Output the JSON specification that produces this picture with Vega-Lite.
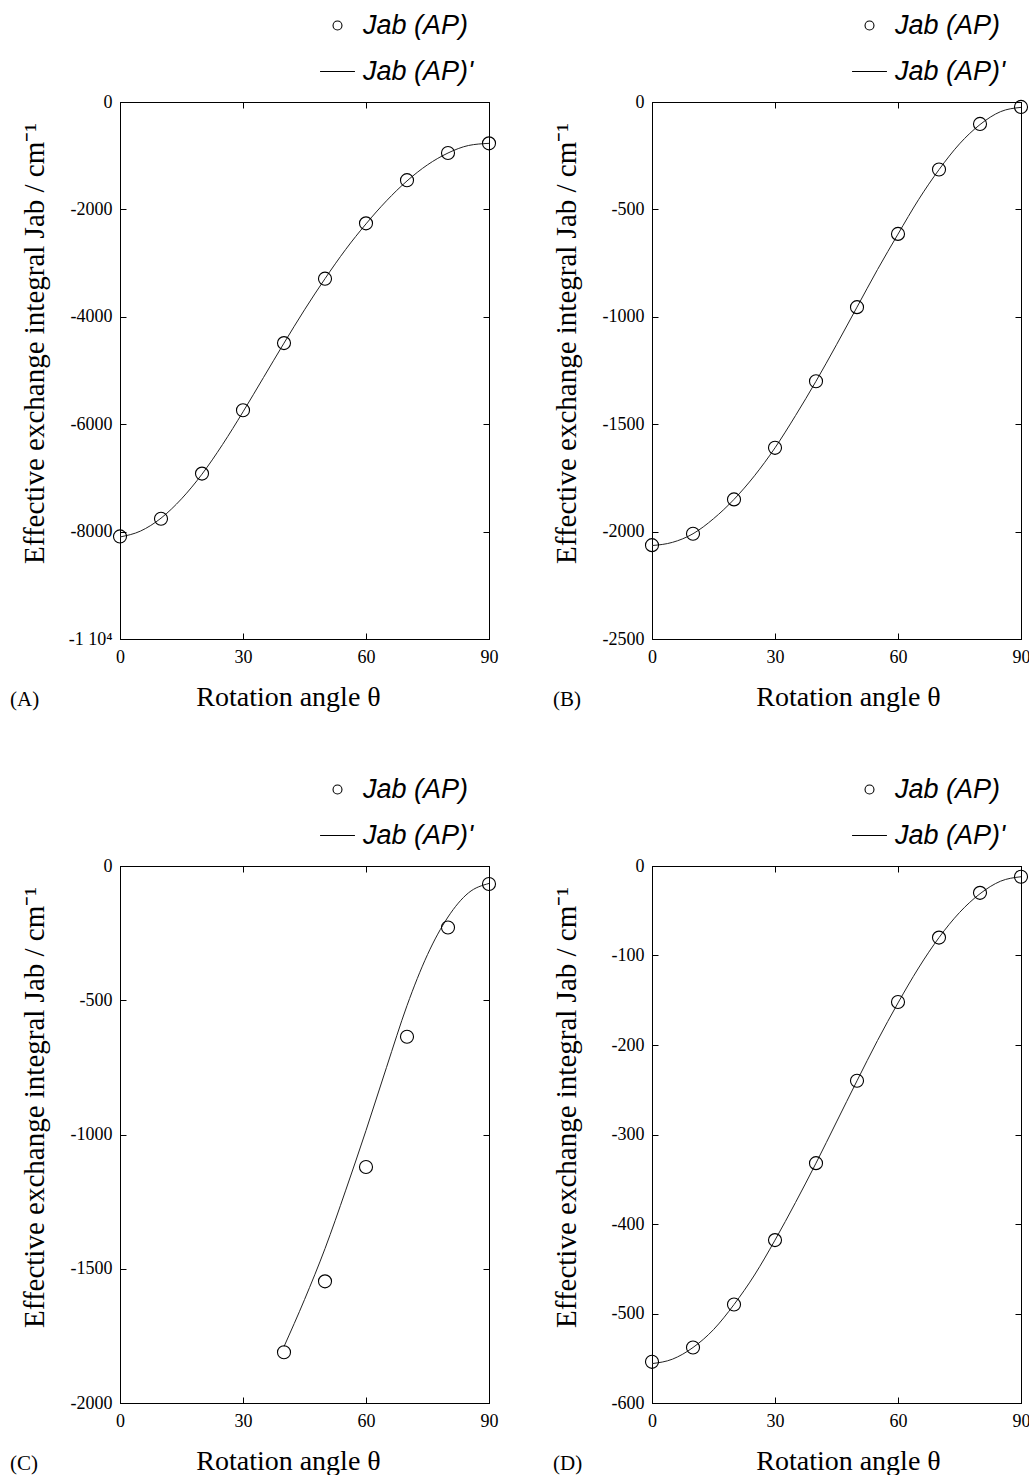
{
  "$schema": "https://vega.github.io/schema/vega-lite/v6.json",
  "autosize": {"type": "none"},
  "padding": {"left": 120, "top": 102, "right": 909, "bottom": 1373},
  "background": "white",
  "columns": 2,
  "spacing": {"row": 227, "column": 163},
  "bounds": "flush",
  "resolve": {"scale": {"shape": "independent"}, "legend": {"shape": "independent"}},
  "config": {
    "view": {"stroke": "black", "strokeWidth": 1},
    "axis": {
      "grid": false,
      "domainColor": "black",
      "tickColor": "black",
      "labelColor": "black",
      "labelFont": "Liberation Serif",
      "labelFontSize": 18,
      "titleFont": "Liberation Serif",
      "titleFontWeight": "normal",
      "titleColor": "black",
      "titleFontSize": 28,
      "labelFlush": false
    },
    "legend": {
      "orient": "none", "legendX": 204, "legendY": -90, "title": null,
      "labelFont": "Liberation Sans", "labelFontStyle": "italic", "labelFontSize": 27, "labelColor": "black",
      "symbolSize": 80, "symbolStrokeWidth": 1.1, "symbolStrokeColor": "black", "symbolFillColor": "transparent",
      "labelOffset": 12, "rowPadding": 18
    },
    "title": {"font": "Liberation Serif", "fontWeight": "normal", "fontSize": 21, "color": "black"}
  },
  "concat": [
    {
      "width": 369, "height": 537,
      "title": {"text": "(A)", "orient": "bottom", "anchor": "start", "frame": "group", "dx": -110, "offset": -22},
      "resolve": {"axis": {"x": "independent", "y": "independent"}},
      "layer": [
        {
          "data": {"values": [
            {"t": 0, "j": -8100}, {"t": 5, "j": -7990}, {"t": 10, "j": -7750}, {"t": 15, "j": -7390},
            {"t": 20, "j": -6930}, {"t": 25, "j": -6380}, {"t": 30, "j": -5770}, {"t": 35, "j": -5130},
            {"t": 40, "j": -4490}, {"t": 45, "j": -3870}, {"t": 50, "j": -3290}, {"t": 55, "j": -2750},
            {"t": 60, "j": -2270}, {"t": 65, "j": -1840}, {"t": 70, "j": -1470}, {"t": 75, "j": -1170},
            {"t": 80, "j": -950}, {"t": 85, "j": -810}, {"t": 90, "j": -770}
          ]},
          "mark": {"type": "line", "interpolate": "monotone", "color": "#222", "strokeWidth": 1},
          "encoding": {
            "x": {"field": "t", "type": "quantitative", "scale": {"domain": [0, 90], "nice": false},
                  "axis": {"orient": "top", "labels": false, "title": null, "values": [0, 30, 60, 90], "tickSize": -6}},
            "y": {"field": "j", "type": "quantitative", "scale": {"domain": [-10000, 0], "nice": false},
                  "axis": {"orient": "right", "labels": false, "title": null, "values": [0, -2000, -4000, -6000, -8000, -10000], "tickSize": -6}}
          }
        },
        {
          "data": {"values": [
            {"t": 0, "j": -8090, "s": "Jab (AP)"}, {"t": 10, "j": -7760, "s": "Jab (AP)"},
            {"t": 20, "j": -6920, "s": "Jab (AP)"}, {"t": 30, "j": -5740, "s": "Jab (AP)"},
            {"t": 40, "j": -4490, "s": "Jab (AP)"}, {"t": 50, "j": -3290, "s": "Jab (AP)"},
            {"t": 60, "j": -2260, "s": "Jab (AP)"}, {"t": 70, "j": -1456, "s": "Jab (AP)"},
            {"t": 80, "j": -950, "s": "Jab (AP)"}, {"t": 90, "j": -770, "s": "Jab (AP)"}
          ]},
          "mark": {"type": "point", "filled": false, "color": "black", "size": 170, "strokeWidth": 1.1, "opacity": 1},
          "encoding": {
            "x": {"field": "t", "type": "quantitative", "scale": {"domain": [0, 90], "nice": false},
                  "axis": {"orient": "bottom", "values": [0, 30, 60, 90], "tickSize": -6, "labelPadding": 15,
                           "title": "Rotation angle θ", "titleX": 168, "titleY": 58, "titleBaseline": "middle",
                           "labelExpr": "format(datum.value, 'd')"}},
            "y": {"field": "j", "type": "quantitative", "scale": {"domain": [-10000, 0], "nice": false},
                  "axis": {"orient": "left", "values": [0, -2000, -4000, -6000, -8000, -10000], "tickSize": -6, "labelPadding": 14,
                           "title": "Effective exchange integral  Jab / cm⁻¹", "titleFontSize": 29, "titleX": -86, "titleY": 241, "titleBaseline": "middle",
                           "labelExpr": "datum.value == -10000 ? '-1 10⁴' : (datum.value < 0 ? '-' + format(-datum.value, 'd') : format(datum.value, 'd'))"}},
            "shape": {"field": "s", "type": "nominal",
                      "scale": {"domain": ["Jab (AP)", "Jab (AP)'"], "range": ["circle", "M-3.9,0H3.9"]}}
          }
        }
      ]
    },
    {
      "width": 369, "height": 537,
      "title": {"text": "(B)", "orient": "bottom", "anchor": "start", "frame": "group", "dx": -99, "offset": -22},
      "resolve": {"axis": {"x": "independent", "y": "independent"}},
      "layer": [
        {
          "data": {"values": [
            {"t": 0, "j": -2065}, {"t": 5, "j": -2050}, {"t": 10, "j": -2010}, {"t": 15, "j": -1940},
            {"t": 20, "j": -1850}, {"t": 25, "j": -1740}, {"t": 30, "j": -1610}, {"t": 35, "j": -1460},
            {"t": 40, "j": -1300}, {"t": 45, "j": -1130}, {"t": 50, "j": -955}, {"t": 55, "j": -780},
            {"t": 60, "j": -615}, {"t": 65, "j": -455}, {"t": 70, "j": -315}, {"t": 75, "j": -195},
            {"t": 80, "j": -105}, {"t": 85, "j": -45}, {"t": 90, "j": -25}
          ]},
          "mark": {"type": "line", "interpolate": "monotone", "color": "#222", "strokeWidth": 1},
          "encoding": {
            "x": {"field": "t", "type": "quantitative", "scale": {"domain": [0, 90], "nice": false},
                  "axis": {"orient": "top", "labels": false, "title": null, "values": [0, 30, 60, 90], "tickSize": -6}},
            "y": {"field": "j", "type": "quantitative", "scale": {"domain": [-2500, 0], "nice": false},
                  "axis": {"orient": "right", "labels": false, "title": null, "values": [0, -500, -1000, -1500, -2000, -2500], "tickSize": -6}}
          }
        },
        {
          "data": {"values": [
            {"t": 0, "j": -2063, "s": "Jab (AP)"}, {"t": 10, "j": -2010, "s": "Jab (AP)"},
            {"t": 20, "j": -1850, "s": "Jab (AP)"}, {"t": 30, "j": -1610, "s": "Jab (AP)"},
            {"t": 40, "j": -1300, "s": "Jab (AP)"}, {"t": 50, "j": -955, "s": "Jab (AP)"},
            {"t": 60, "j": -614, "s": "Jab (AP)"}, {"t": 70, "j": -314, "s": "Jab (AP)"},
            {"t": 80, "j": -102, "s": "Jab (AP)"}, {"t": 90, "j": -23, "s": "Jab (AP)"}
          ]},
          "mark": {"type": "point", "filled": false, "color": "black", "size": 170, "strokeWidth": 1.1, "opacity": 1},
          "encoding": {
            "x": {"field": "t", "type": "quantitative", "scale": {"domain": [0, 90], "nice": false},
                  "axis": {"orient": "bottom", "values": [0, 30, 60, 90], "tickSize": -6, "labelPadding": 15,
                           "title": "Rotation angle θ", "titleX": 196, "titleY": 58, "titleBaseline": "middle",
                           "labelExpr": "format(datum.value, 'd')"}},
            "y": {"field": "j", "type": "quantitative", "scale": {"domain": [-2500, 0], "nice": false},
                  "axis": {"orient": "left", "values": [0, -500, -1000, -1500, -2000, -2500], "tickSize": -6, "labelPadding": 14,
                           "title": "Effective exchange integral  Jab / cm⁻¹", "titleFontSize": 29, "titleX": -86, "titleY": 241, "titleBaseline": "middle",
                           "labelExpr": "datum.value < 0 ? '-' + format(-datum.value, 'd') : format(datum.value, 'd')"}},
            "shape": {"field": "s", "type": "nominal",
                      "scale": {"domain": ["Jab (AP)", "Jab (AP)'"], "range": ["circle", "M-3.9,0H3.9"]}}
          }
        }
      ]
    },
    {
      "width": 369, "height": 537,
      "title": {"text": "(C)", "orient": "bottom", "anchor": "start", "frame": "group", "dx": -110, "offset": -22},
      "resolve": {"axis": {"x": "independent", "y": "independent"}},
      "layer": [
        {
          "data": {"values": [
            {"t": 40, "j": -1790}, {"t": 45, "j": -1615}, {"t": 50, "j": -1425}, {"t": 55, "j": -1210},
            {"t": 60, "j": -985}, {"t": 65, "j": -750}, {"t": 70, "j": -520}, {"t": 75, "j": -330},
            {"t": 80, "j": -190}, {"t": 85, "j": -100}, {"t": 90, "j": -65}
          ]},
          "mark": {"type": "line", "interpolate": "monotone", "color": "#222", "strokeWidth": 1},
          "encoding": {
            "x": {"field": "t", "type": "quantitative", "scale": {"domain": [0, 90], "nice": false},
                  "axis": {"orient": "top", "labels": false, "title": null, "values": [0, 30, 60, 90], "tickSize": -6}},
            "y": {"field": "j", "type": "quantitative", "scale": {"domain": [-2000, 0], "nice": false},
                  "axis": {"orient": "right", "labels": false, "title": null, "values": [0, -500, -1000, -1500, -2000], "tickSize": -6}}
          }
        },
        {
          "data": {"values": [
            {"t": 40, "j": -1811, "s": "Jab (AP)"}, {"t": 50, "j": -1547, "s": "Jab (AP)"},
            {"t": 60, "j": -1121, "s": "Jab (AP)"}, {"t": 70, "j": -636, "s": "Jab (AP)"},
            {"t": 80, "j": -229, "s": "Jab (AP)"}, {"t": 90, "j": -67, "s": "Jab (AP)"}
          ]},
          "mark": {"type": "point", "filled": false, "color": "black", "size": 170, "strokeWidth": 1.1, "opacity": 1},
          "encoding": {
            "x": {"field": "t", "type": "quantitative", "scale": {"domain": [0, 90], "nice": false},
                  "axis": {"orient": "bottom", "values": [0, 30, 60, 90], "tickSize": -6, "labelPadding": 15,
                           "title": "Rotation angle θ", "titleX": 168, "titleY": 58, "titleBaseline": "middle",
                           "labelExpr": "format(datum.value, 'd')"}},
            "y": {"field": "j", "type": "quantitative", "scale": {"domain": [-2000, 0], "nice": false},
                  "axis": {"orient": "left", "values": [0, -500, -1000, -1500, -2000], "tickSize": -6, "labelPadding": 14,
                           "title": "Effective exchange integral  Jab / cm⁻¹", "titleFontSize": 29, "titleX": -86, "titleY": 241, "titleBaseline": "middle",
                           "labelExpr": "datum.value < 0 ? '-' + format(-datum.value, 'd') : format(datum.value, 'd')"}},
            "shape": {"field": "s", "type": "nominal",
                      "scale": {"domain": ["Jab (AP)", "Jab (AP)'"], "range": ["circle", "M-3.9,0H3.9"]}}
          }
        }
      ]
    },
    {
      "width": 369, "height": 537,
      "title": {"text": "(D)", "orient": "bottom", "anchor": "start", "frame": "group", "dx": -99, "offset": -22},
      "resolve": {"axis": {"x": "independent", "y": "independent"}},
      "layer": [
        {
          "data": {"values": [
            {"t": 0, "j": -556}, {"t": 5, "j": -551}, {"t": 10, "j": -538}, {"t": 15, "j": -518},
            {"t": 20, "j": -490}, {"t": 25, "j": -457}, {"t": 30, "j": -418}, {"t": 35, "j": -376},
            {"t": 40, "j": -332}, {"t": 45, "j": -286}, {"t": 50, "j": -240}, {"t": 55, "j": -195},
            {"t": 60, "j": -153}, {"t": 65, "j": -114}, {"t": 70, "j": -80}, {"t": 75, "j": -52},
            {"t": 80, "j": -31}, {"t": 85, "j": -17}, {"t": 90, "j": -12}
          ]},
          "mark": {"type": "line", "interpolate": "monotone", "color": "#222", "strokeWidth": 1},
          "encoding": {
            "x": {"field": "t", "type": "quantitative", "scale": {"domain": [0, 90], "nice": false},
                  "axis": {"orient": "top", "labels": false, "title": null, "values": [0, 30, 60, 90], "tickSize": -6}},
            "y": {"field": "j", "type": "quantitative", "scale": {"domain": [-600, 0], "nice": false},
                  "axis": {"orient": "right", "labels": false, "title": null, "values": [0, -100, -200, -300, -400, -500, -600], "tickSize": -6}}
          }
        },
        {
          "data": {"values": [
            {"t": 0, "j": -554, "s": "Jab (AP)"}, {"t": 10, "j": -538, "s": "Jab (AP)"},
            {"t": 20, "j": -490, "s": "Jab (AP)"}, {"t": 30, "j": -418, "s": "Jab (AP)"},
            {"t": 40, "j": -332, "s": "Jab (AP)"}, {"t": 50, "j": -240, "s": "Jab (AP)"},
            {"t": 60, "j": -152, "s": "Jab (AP)"}, {"t": 70, "j": -80, "s": "Jab (AP)"},
            {"t": 80, "j": -30, "s": "Jab (AP)"}, {"t": 90, "j": -12, "s": "Jab (AP)"}
          ]},
          "mark": {"type": "point", "filled": false, "color": "black", "size": 170, "strokeWidth": 1.1, "opacity": 1},
          "encoding": {
            "x": {"field": "t", "type": "quantitative", "scale": {"domain": [0, 90], "nice": false},
                  "axis": {"orient": "bottom", "values": [0, 30, 60, 90], "tickSize": -6, "labelPadding": 15,
                           "title": "Rotation angle θ", "titleX": 196, "titleY": 58, "titleBaseline": "middle",
                           "labelExpr": "format(datum.value, 'd')"}},
            "y": {"field": "j", "type": "quantitative", "scale": {"domain": [-600, 0], "nice": false},
                  "axis": {"orient": "left", "values": [0, -100, -200, -300, -400, -500, -600], "tickSize": -6, "labelPadding": 14,
                           "title": "Effective exchange integral  Jab / cm⁻¹", "titleFontSize": 29, "titleX": -86, "titleY": 241, "titleBaseline": "middle",
                           "labelExpr": "datum.value < 0 ? '-' + format(-datum.value, 'd') : format(datum.value, 'd')"}},
            "shape": {"field": "s", "type": "nominal",
                      "scale": {"domain": ["Jab (AP)", "Jab (AP)'"], "range": ["circle", "M-3.9,0H3.9"]}}
          }
        }
      ]
    }
  ]
}
